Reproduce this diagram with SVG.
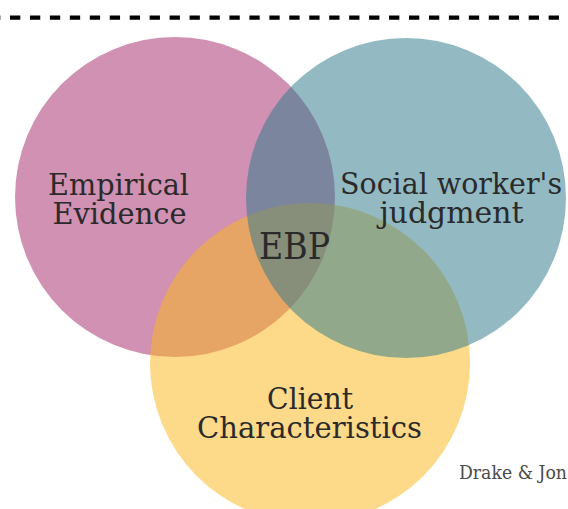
<svg xmlns="http://www.w3.org/2000/svg" width="568" height="509" viewBox="0 0 568 509">
  <style>
    .c { opacity: 0.52; }
    .lbl { font-family: "DejaVu Serif", "Liberation Serif", serif; fill: #2a2a2a; text-anchor: start; }
    .big { font-size: 29px; }
    .src { font-family: "DejaVu Serif", "Liberation Serif", serif; fill: #4a4a4a; font-size: 18px; }
  </style>
  <rect x="0" y="0" width="568" height="509" fill="#ffffff"/>
  <line x1="-9.95" y1="17.6" x2="559" y2="17.6" stroke="#000000" stroke-width="4.2" stroke-dasharray="10.3 9.65"/>
  <g id="connectors"></g>
  <g id="empirical-evidence">
    <circle class="c" cx="175" cy="197" r="160" fill="#a52c6c"/>
    <text class="lbl big" x="48" y="195" textLength="141" lengthAdjust="spacingAndGlyphs">Empirical</text>
    <text class="lbl big" x="52.5" y="224" textLength="134" lengthAdjust="spacingAndGlyphs">Evidence</text>
  </g>
  <g id="client-characteristics">
    <circle class="c" cx="310" cy="363" r="160" fill="#fcb61e"/>
    <text class="lbl big" x="267" y="409" textLength="86" lengthAdjust="spacingAndGlyphs">Client</text>
    <text class="lbl big" x="197" y="438" textLength="225" lengthAdjust="spacingAndGlyphs">Characteristics</text>
  </g>
  <g id="social-workers-judgment">
    <circle class="c" cx="406" cy="198" r="160" fill="#307b8c"/>
    <text class="lbl big" x="340" y="194" textLength="222" lengthAdjust="spacingAndGlyphs">Social worker's</text>
    <text class="lbl big" x="379.5" y="223.3" textLength="144" lengthAdjust="spacingAndGlyphs">judgment</text>
  </g>
  <g id="ebp">
    <text class="lbl" x="259" y="259" font-size="37" textLength="71" lengthAdjust="spacingAndGlyphs">EBP</text>
  </g>
  <g id="source">
    <text class="src" x="459" y="479" textLength="108" lengthAdjust="spacingAndGlyphs">Drake &amp; Jon</text>
  </g>
</svg>
